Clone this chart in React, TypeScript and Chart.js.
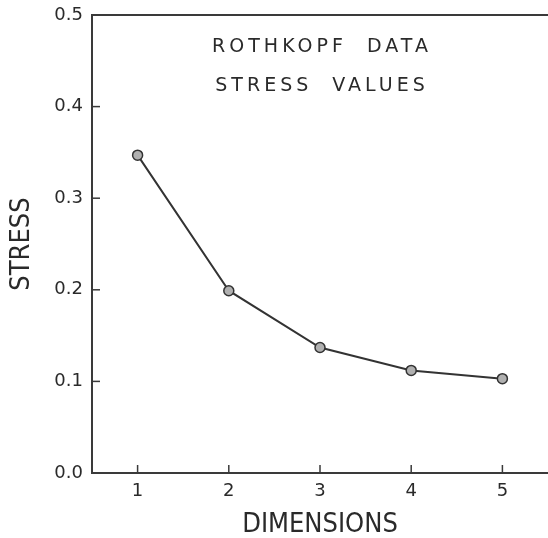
import React, { useEffect, useRef } from "react";
import { Chart, registerables } from "chart.js";

Chart.register(...registerables);

const dimensions = [1, 2, 3, 4, 5];
const stressValues = [0.347, 0.199, 0.137, 0.112, 0.103];
const xTickValues = [1, 2, 3, 4, 5];
const yTickValues = [0, 0.1, 0.2, 0.3, 0.4, 0.5];
const titleLines = ["ROTHKOPF  DATA", "STRESS  VALUES"];
const xAxisTitle = "DIMENSIONS";
const yAxisTitle = "STRESS";

const INK = "#2a2a2a";

const framePlugin = {
  id: "framePlugin",
  afterDraw(chart: any) {
    const { ctx, chartArea } = chart;
    const xs = chart.scales.x;
    const ys = chart.scales.y;
    ctx.save();
    ctx.strokeStyle = "#3a3a3a";
    ctx.lineWidth = 2;
    ctx.beginPath();
    ctx.moveTo(chartArea.left, chartArea.top);
    ctx.lineTo(chart.width, chartArea.top);
    ctx.stroke();
    ctx.lineWidth = 1.5;
    yTickValues.forEach((v) => {
      if (v === 0 || v === 0.5) return;
      const py = ys.getPixelForValue(v);
      ctx.beginPath();
      ctx.moveTo(chartArea.left, py);
      ctx.lineTo(chartArea.left + 8, py);
      ctx.stroke();
    });
    xTickValues.forEach((v) => {
      const px = xs.getPixelForValue(v);
      ctx.beginPath();
      ctx.moveTo(px, chartArea.bottom);
      ctx.lineTo(px, chartArea.bottom - 8);
      ctx.stroke();
    });
    ctx.fillStyle = INK;
    ctx.font = '19px "DejaVu Sans"';
    (ctx as any).letterSpacing = "4px";
    ctx.textAlign = "center";
    ctx.textBaseline = "middle";
    const cx = (chartArea.left + chart.width) / 2 + 2;
    ctx.fillText(titleLines[0], cx, chartArea.top + 32);
    ctx.fillText(titleLines[1], cx, chartArea.top + 71);
    ctx.restore();
  },
};

export default function App() {
  const ref = useRef<HTMLCanvasElement>(null);
  useEffect(() => {
    if (!ref.current) return;
    const chart = new Chart(ref.current, {
      type: "line",
      data: {
        datasets: [
          {
            data: dimensions.map((d, i) => ({ x: d, y: stressValues[i] })),
            borderColor: "#333",
            borderWidth: 2,
            pointRadius: 5,
            pointBackgroundColor: "#b0b0b0",
            pointBorderColor: "#333",
            pointBorderWidth: 1.5,
            tension: 0,
          },
        ],
      },
      options: {
        responsive: false,
        animation: false,
        layout: { padding: { top: 15, left: 0, right: 0, bottom: 0 }, autoPadding: false },
        plugins: { legend: { display: false }, tooltip: { enabled: false } },
        scales: {
          x: {
            type: "linear",
            min: 0.5,
            max: 5.5,
            afterBuildTicks: (s: any) => {
              s.ticks = xTickValues.map((v) => ({ value: v }));
            },
            afterFit: (s: any) => {
              s.height = 65;
              s.paddingLeft = 0;
              s.paddingRight = 0;
            },
            grid: { display: false, drawTicks: false },
            border: { display: true, color: "#3a3a3a", width: 2 },
            ticks: {
              padding: 8,
              color: INK,
              font: { family: "DejaVu Sans", size: 18 },
              callback: (v: any) => String(v),
            },
            title: {
              display: true,
              text: xAxisTitle,
              color: INK,
              font: { family: "DejaVu Sans Condensed", size: 27, lineHeight: 1 },
              padding: { top: 0, bottom: 0 },
            },
          },
          y: {
            type: "linear",
            min: 0,
            max: 0.5,
            afterBuildTicks: (s: any) => {
              s.ticks = yTickValues.map((v) => ({ value: v }));
            },
            afterFit: (s: any) => {
              s.width = 92;
              s.paddingTop = 0;
              s.paddingBottom = 0;
            },
            grid: { display: false, drawTicks: false },
            border: { display: true, color: "#3a3a3a", width: 2 },
            ticks: {
              padding: 9,
              color: INK,
              font: { family: "DejaVu Sans", size: 18 },
              callback: (v: any) => Number(v).toFixed(1),
            },
            title: {
              display: true,
              text: yAxisTitle,
              color: INK,
              font: { family: "DejaVu Sans Condensed", size: 27, lineHeight: 1 },
              padding: { top: 8, bottom: 0 },
            },
          },
        },
      },
      plugins: [framePlugin],
    });
    return () => chart.destroy();
  }, []);
  return (
    <div style={{ position: "absolute", left: 0, top: 0, width: 548, height: 538, overflow: "hidden", background: "#fff" }}>
      <canvas ref={ref} width={548} height={538} style={{ display: "block" }} />
    </div>
  );
}
